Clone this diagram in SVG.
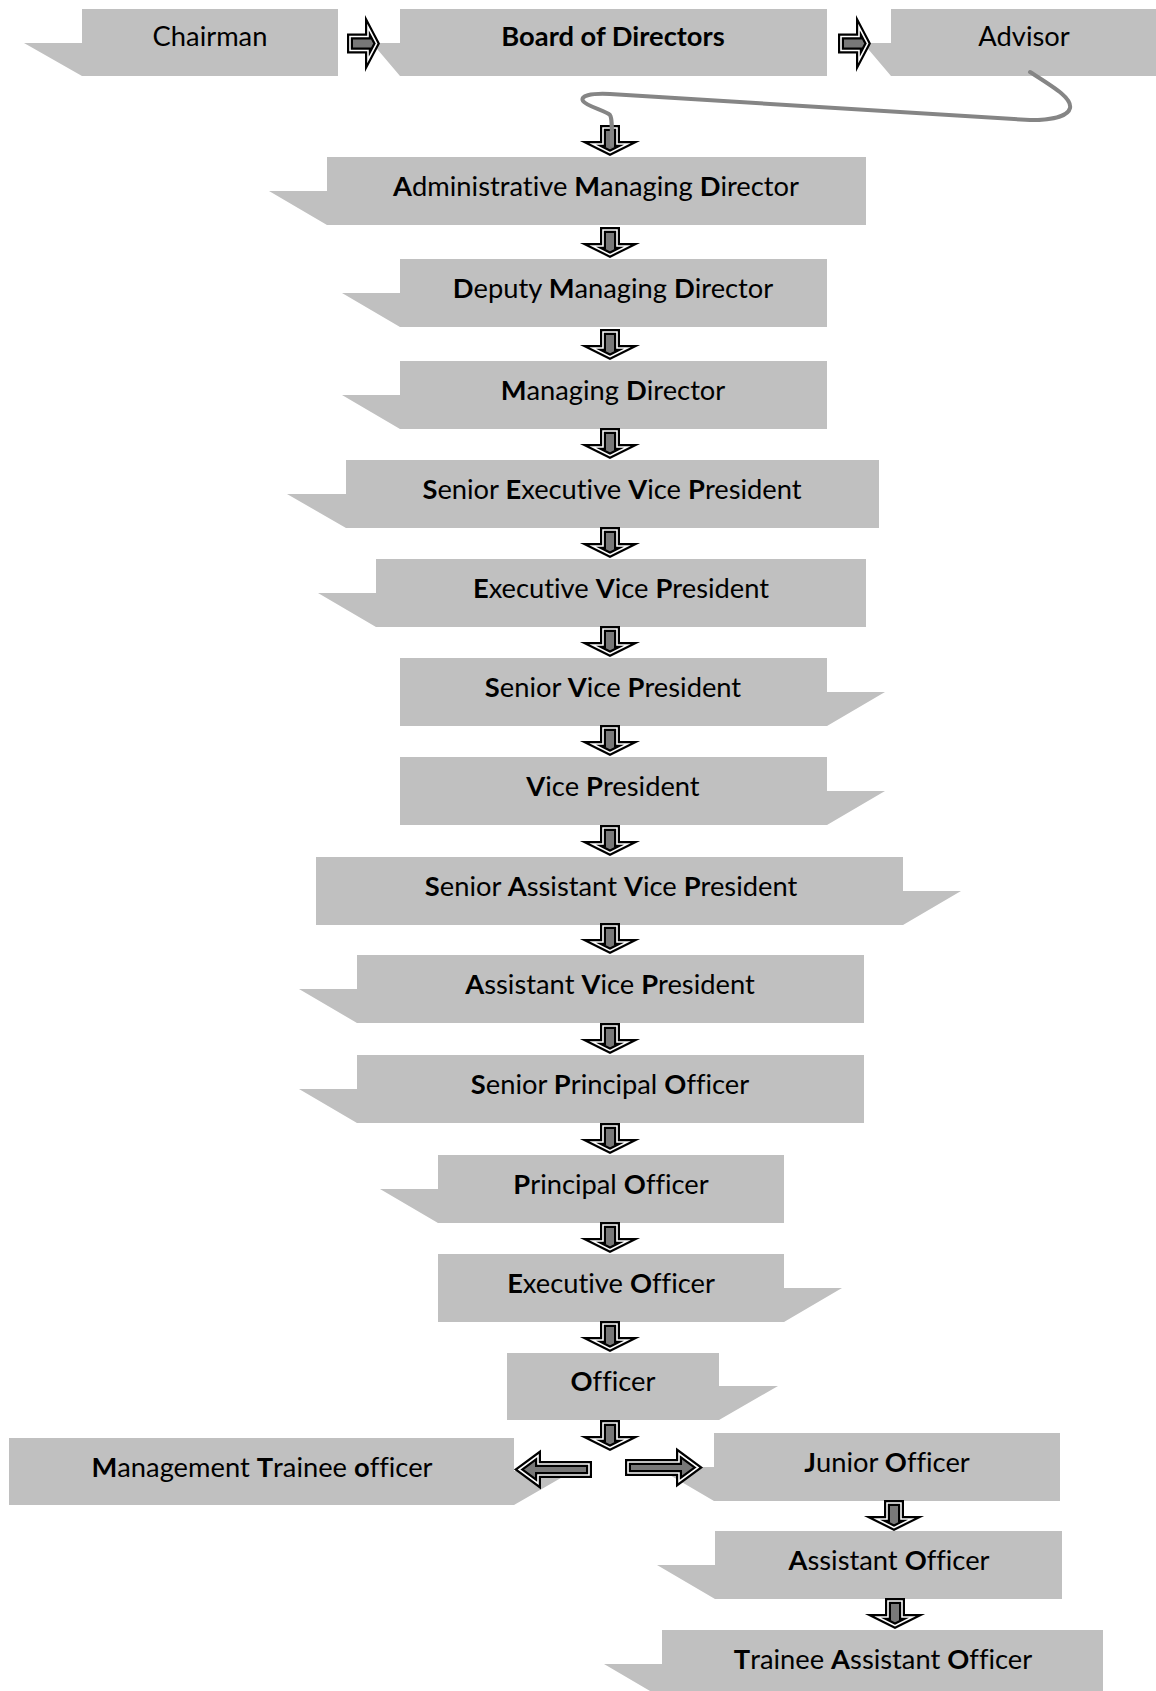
<svg xmlns="http://www.w3.org/2000/svg" xmlns:xlink="http://www.w3.org/1999/xlink" width="1156" height="1691" viewBox="0 0 1156 1691">
  <style>
    .box { fill: #c0c0c0; stroke: none; }
    .lbl { font-family: Lato, "Open Sans", "Liberation Sans", sans-serif; font-size: 27.3px; fill: #000; text-anchor: middle; font-variant-ligatures: none; }
    .b { font-weight: bold; }
    .ak { fill: #787878; stroke: #000; stroke-width: 6; stroke-linejoin: miter; stroke-miterlimit: 12; }
    .aw { fill: none; stroke: #fff; stroke-width: 1.6; stroke-linejoin: miter; stroke-miterlimit: 12; }
    .curve { fill: none; stroke: #858585; stroke-width: 4; stroke-linecap: round; stroke-linejoin: round; }
  </style>
  <defs>
    <!-- block arrow pointing down, origin at top centre (outline is drawn by a wide stroke) -->
    <g id="dn">
      <path class="ak" d="M-7,3 H7 V19 H17.3 L0,27.6 L-17.3,19 H-7 Z"/>
      <path class="aw" d="M-7,3 H7 V19 H17.3 L0,27.6 L-17.3,19 H-7 Z"/>
    </g>
    <!-- short block arrow pointing right, origin at tail centre -->
    <g id="rt">
      <path class="ak" d="M3,-7 H21 V-16.4 L29.6,0 L21,16.4 V7 H3 Z"/>
      <path class="aw" d="M3,-7 H21 V-16.4 L29.6,0 L21,16.4 V7 H3 Z"/>
    </g>
    <!-- long block arrow pointing right, origin at tail centre -->
    <g id="rtl">
      <path class="ak" d="M3,-5.5 H54 V-14 L73,0 L54,14 V5.5 H3 Z"/>
      <path class="aw" d="M3,-5.5 H54 V-14 L73,0 L54,14 V5.5 H3 Z"/>
    </g>
  </defs>

  <!-- top row -->
  <g id="chairman">
    <polygon class="box" points="82,9 338,9 338,76 82,76 24,43 82,43"/>
    <text class="lbl" x="210" y="46">Chairman</text>
  </g>
  <g id="board">
    <polygon class="box" points="400,9 827,9 827,76 400,76 372,43 400,43"/>
    <text class="lbl b" x="613" y="46">Board of Directors</text>
  </g>
  <g id="advisor">
    <polygon class="box" points="891,9 1156,9 1156,76 891,76 863,43 891,43"/>
    <text class="lbl" x="1024" y="46">Advisor</text>
  </g>

  <!-- hierarchy -->
  <g id="admin-md">
    <polygon class="box" points="327,157 866,157 866,225 327,225 269,191 327,191"/>
    <text class="lbl" x="596" y="196"><tspan class="b">A</tspan>dministrative <tspan class="b">M</tspan>anaging <tspan class="b">D</tspan>irector</text>
  </g>
  <g id="deputy-md">
    <polygon class="box" points="400,259 827,259 827,327 400,327 342,293 400,293"/>
    <text class="lbl" x="613" y="298"><tspan class="b">D</tspan>eputy <tspan class="b">M</tspan>anaging <tspan class="b">D</tspan>irector</text>
  </g>
  <g id="md">
    <polygon class="box" points="400,361 827,361 827,429 400,429 342,395 400,395"/>
    <text class="lbl" x="613" y="400"><tspan class="b">M</tspan>anaging <tspan class="b">D</tspan>irector</text>
  </g>
  <g id="sevp">
    <polygon class="box" points="346,460 879,460 879,528 346,528 287,494 346,494"/>
    <text class="lbl" x="612" y="499"><tspan class="b">S</tspan>enior <tspan class="b">E</tspan>xecutive <tspan class="b">V</tspan>ice <tspan class="b">P</tspan>resident</text>
  </g>
  <g id="evp">
    <polygon class="box" points="376,559 866,559 866,627 376,627 318,593 376,593"/>
    <text class="lbl" x="621" y="598"><tspan class="b">E</tspan>xecutive <tspan class="b">V</tspan>ice <tspan class="b">P</tspan>resident</text>
  </g>
  <g id="svp">
    <polygon class="box" points="400,658 827,658 827,692 885,692 827,726 400,726"/>
    <text class="lbl" x="613" y="697"><tspan class="b">S</tspan>enior <tspan class="b">V</tspan>ice <tspan class="b">P</tspan>resident</text>
  </g>
  <g id="vp">
    <polygon class="box" points="400,757 827,757 827,791 885,791 827,825 400,825"/>
    <text class="lbl" x="613" y="796"><tspan class="b">V</tspan>ice <tspan class="b">P</tspan>resident</text>
  </g>
  <g id="savp">
    <polygon class="box" points="316,857 903,857 903,891 961,891 903,925 316,925"/>
    <text class="lbl" x="611" y="896"><tspan class="b">S</tspan>enior <tspan class="b">A</tspan>ssistant <tspan class="b">V</tspan>ice <tspan class="b">P</tspan>resident</text>
  </g>
  <g id="avp">
    <polygon class="box" points="357,955 864,955 864,1023 357,1023 299,989 357,989"/>
    <text class="lbl" x="610" y="994"><tspan class="b">A</tspan>ssistant <tspan class="b">V</tspan>ice <tspan class="b">P</tspan>resident</text>
  </g>
  <g id="spo">
    <polygon class="box" points="357,1055 864,1055 864,1123 357,1123 299,1089 357,1089"/>
    <text class="lbl" x="610" y="1094"><tspan class="b">S</tspan>enior <tspan class="b">P</tspan>rincipal <tspan class="b">O</tspan>fficer</text>
  </g>
  <g id="po">
    <polygon class="box" points="438,1155 784,1155 784,1223 438,1223 380,1189 438,1189"/>
    <text class="lbl" x="611" y="1194"><tspan class="b">P</tspan>rincipal <tspan class="b">O</tspan>fficer</text>
  </g>
  <g id="eo">
    <polygon class="box" points="438,1254 784,1254 784,1288 842,1288 784,1322 438,1322"/>
    <text class="lbl" x="611" y="1293"><tspan class="b">E</tspan>xecutive <tspan class="b">O</tspan>fficer</text>
  </g>
  <g id="officer">
    <polygon class="box" points="507,1353 719,1353 719,1386 778,1386 719,1420 507,1420"/>
    <text class="lbl" x="613" y="1391"><tspan class="b">O</tspan>fficer</text>
  </g>
  <g id="mto">
    <polygon class="box" points="9,1438 514,1438 514,1471 573,1471 514,1505 9,1505"/>
    <text class="lbl" x="262" y="1477"><tspan class="b">M</tspan>anagement <tspan class="b">T</tspan>rainee <tspan class="b">o</tspan>fficer</text>
  </g>
  <g id="junior-officer">
    <polygon class="box" points="714,1433 1060,1433 1060,1501 714,1501 656,1467 714,1467"/>
    <text class="lbl" x="887" y="1472"><tspan class="b">J</tspan>unior <tspan class="b">O</tspan>fficer</text>
  </g>
  <g id="assistant-officer">
    <polygon class="box" points="715,1531 1062,1531 1062,1599 715,1599 657,1565 715,1565"/>
    <text class="lbl" x="889" y="1570"><tspan class="b">A</tspan>ssistant <tspan class="b">O</tspan>fficer</text>
  </g>
  <g id="trainee-assistant-officer">
    <polygon class="box" points="662,1630 1103,1630 1103,1698 662,1698 604,1664 662,1664"/>
    <text class="lbl" x="883" y="1669"><tspan class="b">T</tspan>rainee <tspan class="b">A</tspan>ssistant <tspan class="b">O</tspan>fficer</text>
  </g>

  <!-- connectors -->
  <g id="connectors">
    <use xlink:href="#rt" x="347" y="43.5"/>
    <use xlink:href="#rt" x="838" y="43.5"/>
    <use xlink:href="#dn" x="610" y="125"/>
    <path class="curve" d="M1030,72 C1055,88 1072,98 1070,108 C1068,117 1050,120 1030,120 L610,94 C590,93 580,96 583,101 C586,106 606,111 610,115 C612,118 612,125 612,145"/>
    <use xlink:href="#dn" x="610" y="227"/>
    <use xlink:href="#dn" x="610" y="329"/>
    <use xlink:href="#dn" x="610" y="428"/>
    <use xlink:href="#dn" x="610" y="527"/>
    <use xlink:href="#dn" x="610" y="626"/>
    <use xlink:href="#dn" x="610" y="725"/>
    <use xlink:href="#dn" x="610" y="825"/>
    <use xlink:href="#dn" x="610" y="923"/>
    <use xlink:href="#dn" x="610" y="1023"/>
    <use xlink:href="#dn" x="610" y="1123"/>
    <use xlink:href="#dn" x="610" y="1222"/>
    <use xlink:href="#dn" x="610" y="1321"/>
    <use xlink:href="#dn" x="610" y="1420"/>
    <use xlink:href="#rtl" transform="translate(592,1469.5) scale(-1,1)"/>
    <use xlink:href="#rtl" x="625" y="1467.5"/>
    <use xlink:href="#dn" x="894" y="1500"/>
    <use xlink:href="#dn" x="895" y="1598"/>
  </g>
</svg>
